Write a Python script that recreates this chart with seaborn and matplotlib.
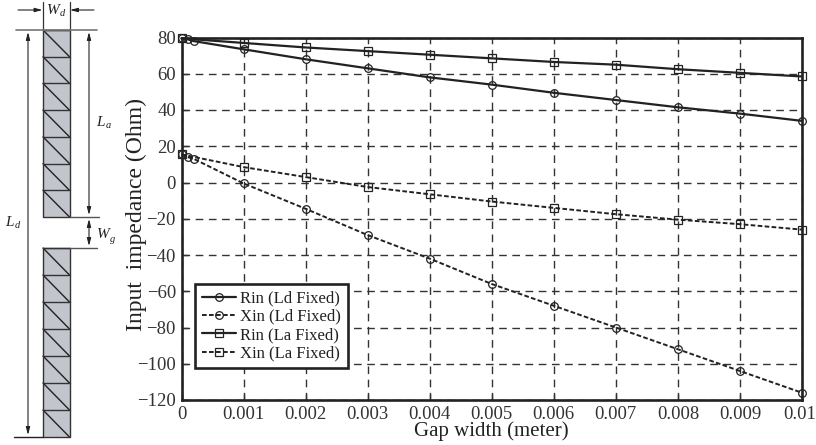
import matplotlib
matplotlib.use("Agg")
import matplotlib.pyplot as plt
from matplotlib.transforms import ScaledTranslation
import pandas as pd
import seaborn as sns

gap_all = [0, 0.0001, 0.0002, 0.001, 0.002, 0.003, 0.004, 0.005, 0.006, 0.007, 0.008, 0.009, 0.01]
gap = [0, 0.001, 0.002, 0.003, 0.004, 0.005, 0.006, 0.007, 0.008, 0.009, 0.01]

rin_ld = [79.5, 79, 78, 73.5, 68, 63, 58, 54, 49.5, 45.5, 41.5, 38, 34]
xin_ld = [15.5, 14, 13, -0.5, -14.5, -29, -42, -56, -68, -80, -92, -104, -116]
rin_la = [79.5, 77, 74.5, 72.5, 70.5, 68.5, 66.5, 65, 62.5, 60.5, 58.5]
xin_la = [15.5, 8.5, 3, -2.5, -6.5, -10.5, -14, -17.5, -20.5, -23, -26]

x_ticks = [0, 0.001, 0.002, 0.003, 0.004, 0.005, 0.006, 0.007, 0.008, 0.009, 0.01]
x_labels = ["0", "0.001", "0.002", "0.003", "0.004", "0.005", "0.006", "0.007", "0.008", "0.009", "0.01"]
y_ticks = [80, 60, 40, 20, 0, -20, -40, -60, -80, -100, -120]

sns.set_style("ticks")
plt.rcParams["font.family"] = ["Liberation Serif", "DejaVu Serif"]

W, H = 816, 445
fig = plt.figure(figsize=(W / 100, H / 100), dpi=100)

# main chart
ax = fig.add_axes([181.5 / W, 1 - 400 / H, (802 - 181.5) / W, (400 - 37.5) / H])
ink = "#222222"

series = [
    ("Rin (Ld Fixed)", gap_all, rin_ld, "-", "o", 1.6),
    ("Xin (Ld Fixed)", gap_all, xin_ld, (0, (2.4, 1.2)), "o", 1.4),
    ("Rin (La Fixed)", gap, rin_la, "-", "s", 1.6),
    ("Xin (La Fixed)", gap, xin_la, (0, (2.4, 1.2)), "s", 1.4),
]
for name, xs, ys, ls, mk, lw in series:
    df = pd.DataFrame({"gap": xs, "value": ys})
    sns.lineplot(
        data=df, x="gap", y="value", ax=ax, color=ink, linestyle=ls, linewidth=lw,
        marker=mk, markersize=5.5, markerfacecolor="none", markeredgecolor=ink,
        markeredgewidth=0.9, label=name, errorbar=None, clip_on=False, zorder=4,
    )

ax.set_xlim(0, 0.01)
ax.set_ylim(-120, 80)
ax.set_xticks(x_ticks)
ax.set_xticklabels(x_labels)
ax.set_yticks(y_ticks)
ax.grid(True, color="#333333", linestyle=(0, (5.5, 4)), linewidth=1.0)
ax.set_axisbelow(True)
ax.tick_params(axis="both", direction="in", length=4, width=1.0, labelsize=13.5,
               colors="#333333", pad=4)
ax.tick_params(axis="x", pad=4)
# nudge the last label so it stays on the canvas
last = ax.get_xticklabels()[-1]
last.set_transform(last.get_transform() + ScaledTranslation(-2 / 100, 0, fig.dpi_scale_trans))
for s in ax.spines.values():
    s.set_visible(True)
    s.set_color(ink)
    s.set_linewidth(1.9)
ax.set_xlabel("Gap width (meter)", fontsize=15, color="#222222", labelpad=-1)
ax.set_ylabel("Input  impedance (Ohm)", fontsize=17, color="#222222")
ax.yaxis.set_label_coords(-0.0556, 0.513)

leg = ax.legend(
    loc="lower left", bbox_to_anchor=(0.022, 0.088), borderaxespad=0, fontsize=12,
    frameon=True, fancybox=False, framealpha=1, edgecolor=ink, borderpad=0.4,
    labelspacing=0.14, handlelength=2.05, handletextpad=0.25,
)
leg.get_frame().set_linewidth(1.9)
leg.set_zorder(10)
for t in leg.get_texts():
    t.set_color("#222222")

# antenna sketch on the left, in pixel coordinates of the figure
sk = fig.add_axes([0, 0, 1, 1], facecolor="none")
sk.set_xlim(0, W)
sk.set_ylim(H, 0)
sk.axis("off")

x0, x1 = 43, 69.5
for top, bottom in [(30, 217), (248, 437)]:
    sk.fill_between([x0, x1], top, bottom, color="#c3c5cc", lw=0)
    step = (bottom - top) / 7
    for i in range(7):
        y = top + i * step
        sk.plot([x0, x1], [y, y], color="#333333", lw=1.0)
        sk.plot([x0, x1], [y, y + step], color="#222222", lw=1.0)
    sk.plot([x0, x1, x1, x0, x0], [top, top, bottom, bottom, top], color="#333333", lw=1.0)

sk.plot([x0, x0], [2, 30], color="#333333", lw=0.9)
sk.plot([x1, x1], [2, 30], color="#333333", lw=0.9)
sk.plot([16, 97], [30, 30], color="#777777", lw=1.2)
sk.plot([14, 43], [437, 437], color="#222222", lw=1.0)
sk.plot([x1, 99], [217, 217], color="#555555", lw=1.0)
sk.plot([x1, 97], [248, 248], color="#555555", lw=1.0)


def arrow(p, q, style="<|-|>"):
    sk.annotate("", xy=q, xytext=p, arrowprops=dict(
        arrowstyle=style + ",head_width=0.12,head_length=0.45", color="#222222",
        lw=0.8, shrinkA=0, shrinkB=0))


arrow((28, 32), (28, 435))
arrow((89, 32), (89, 215))
arrow((89, 219), (89, 246))
arrow((18, 10), (x0 - 0.5, 10), "-|>")
arrow((94, 10), (x1 + 0.5, 10), "-|>")

txt = dict(family="Liberation Serif", style="italic", color="#222222", va="center", ha="left")
sk.text(46.5, 10, "W", fontsize=11, **txt)
sk.text(60, 14, "d", fontsize=7.5, **txt)
sk.text(96.5, 122, "L", fontsize=11, **txt)
sk.text(105.5, 125, "a", fontsize=7.5, **txt)
sk.text(5.5, 222, "L", fontsize=11, **txt)
sk.text(14.5, 225, "d", fontsize=7.5, **txt)
sk.text(96.5, 235, "W", fontsize=11, **txt)
sk.text(110, 240, "g", fontsize=7.5, **txt)

fig.savefig("out.png", dpi=100)
